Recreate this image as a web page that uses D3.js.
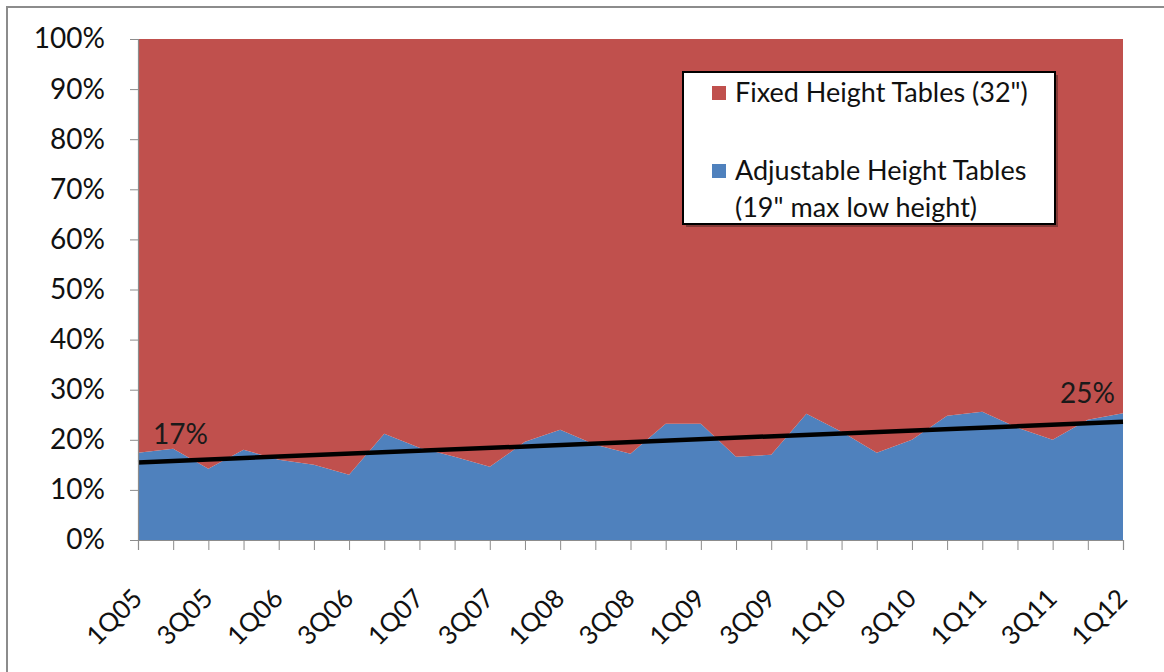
<!DOCTYPE html>
<html>
<head>
<meta charset="utf-8">
<script src="https://cdn.jsdelivr.net/npm/d3@7"></script>
<style>
  html, body { margin: 0; padding: 0; background: #fff; }
  svg { display: block; font-family: Lato, "Open Sans", sans-serif; }
</style>
</head>
<body>
<svg id="chart" width="1164" height="672"></svg>
<script>
// Quarterly share of table shipments (percent)
const quarters = [
  "1Q05","2Q05","3Q05","4Q05","1Q06","2Q06","3Q06","4Q06",
  "1Q07","2Q07","3Q07","4Q07","1Q08","2Q08","3Q08","4Q08",
  "1Q09","2Q09","3Q09","4Q09","1Q10","2Q10","3Q10","4Q10",
  "1Q11","2Q11","3Q11","4Q11","1Q12"
];
const adjustableShare = [
  17.4, 18.2, 14.2, 18.0, 16.0, 15.0, 13.0, 21.2,
  18.4, 16.6, 14.6, 19.6, 22.0, 19.0, 17.2, 23.2,
  23.2, 16.6, 17.0, 25.2, 21.6, 17.4, 20.0, 24.8,
  25.6, 22.4, 20.0, 24.0, 25.3
];
const fixedShare = adjustableShare.map(v => 100 - v);
const seriesNames = ["Adjustable Height Tables\n(19\" max low height)", "Fixed Height Tables (32\")"];
const yTicks = [0, 10, 20, 30, 40, 50, 60, 70, 80, 90, 100];

const svg = d3.select("#chart");
const W = 1164, H = 672;
const plot = { left: 138, right: 1123, top: 39, bottom: 540 };

// outer chart frame
svg.append("rect")
  .attr("x", 7).attr("y", 7).attr("width", W).attr("height", H)
  .attr("fill", "#fff").attr("stroke", "#8c8c8c").attr("stroke-width", 2);

const x = d3.scalePoint().domain(quarters).range([plot.left, plot.right]);
const y = d3.scaleLinear().domain([0, 100]).range([plot.bottom, plot.top]);

const rows = quarters.map((q, i) => ({ q, adj: adjustableShare[i], fix: fixedShare[i] }));
const stack = d3.stack().keys(["adj", "fix"])(rows);
const colors = { adj: "#4F81BD", fix: "#C0504D" };

const area = d3.area()
  .x(d => x(d.data.q))
  .y0(d => y(d[0]))
  .y1(d => y(d[1]));

svg.append("g").selectAll("path")
  .data(stack)
  .join("path")
  .attr("d", area)
  .attr("fill", d => colors[d.key]);

// linear trend through the adjustable share
const n = adjustableShare.length;
const idx = d3.range(n);
const mx = d3.mean(idx), my = d3.mean(adjustableShare);
const slope = d3.sum(idx, i => (i - mx) * (adjustableShare[i] - my)) / d3.sum(idx, i => (i - mx) ** 2);
const intercept = my - slope * mx;
svg.append("line")
  .attr("x1", x(quarters[0])).attr("y1", y(intercept))
  .attr("x2", x(quarters[n - 1])).attr("y2", y(intercept + slope * (n - 1)))
  .attr("stroke", "#000").attr("stroke-width", 4.5);

// value callouts at the first and last quarter
svg.append("text")
  .attr("x", x(quarters[0]) + 15).attr("y", 444)
  .attr("font-size", 28).attr("fill", "#1a1a1a")
  .text(Math.round(adjustableShare[0]) + "%");
svg.append("text")
  .attr("x", x(quarters[n - 1]) - 8).attr("y", 403)
  .attr("text-anchor", "end")
  .attr("font-size", 28).attr("fill", "#1a1a1a")
  .text(Math.round(adjustableShare[n - 1]) + "%");

// y axis
const yAxis = svg.append("g")
  .attr("transform", `translate(${plot.left},0)`)
  .call(d3.axisLeft(y).tickValues(yTicks).tickFormat(d => d + "%").tickSize(8).tickPadding(25));
yAxis.select(".domain").attr("stroke", "#8c8c8c").attr("stroke-width", 1.2);
yAxis.selectAll(".tick line").attr("stroke", "#8c8c8c");
yAxis.selectAll("text").attr("font-size", 28).attr("fill", "#111").attr("font-family", "Lato, sans-serif");

// x axis
const xAxis = svg.append("g")
  .attr("transform", `translate(0,${plot.bottom})`)
  .call(d3.axisBottom(x).tickSize(10).tickFormat(""));
xAxis.select(".domain").attr("stroke", "#8c8c8c").attr("stroke-width", 1.2);
xAxis.selectAll(".tick line").attr("stroke", "#8c8c8c");

svg.append("g").selectAll("text")
  .data(quarters.filter((q, i) => i % 2 === 0))
  .join("text")
  .attr("transform", d => `translate(${x(d) + 6},600) rotate(-45)`)
  .attr("text-anchor", "end")
  .attr("font-size", 26)
  .attr("fill", "#111")
  .text(d => d);

// legend
const lg = svg.append("g").attr("transform", "translate(683,72)");
lg.append("rect").attr("x", 3).attr("y", 3).attr("width", 372).attr("height", 152).attr("fill", "#5a2a28").attr("opacity", 0.6);
lg.append("rect").attr("width", 372).attr("height", 152)
  .attr("fill", "#fff").attr("stroke", "#000").attr("stroke-width", 2);

const legendItems = [
  { key: "fix", lines: [seriesNames[1]], top: 14 },
  { key: "adj", lines: seriesNames[0].split("\n"), top: 92 }
];
legendItems.forEach(it => {
  lg.append("rect").attr("x", 29).attr("y", it.top).attr("width", 14).attr("height", 14)
    .attr("fill", colors[it.key]);
  it.lines.forEach((ln, j) => {
    lg.append("text")
      .attr("x", 52).attr("y", it.top + 16 + j * 37)
      .attr("font-size", 27).attr("fill", "#111")
      .text(ln);
  });
});
</script>
</body>
</html>
